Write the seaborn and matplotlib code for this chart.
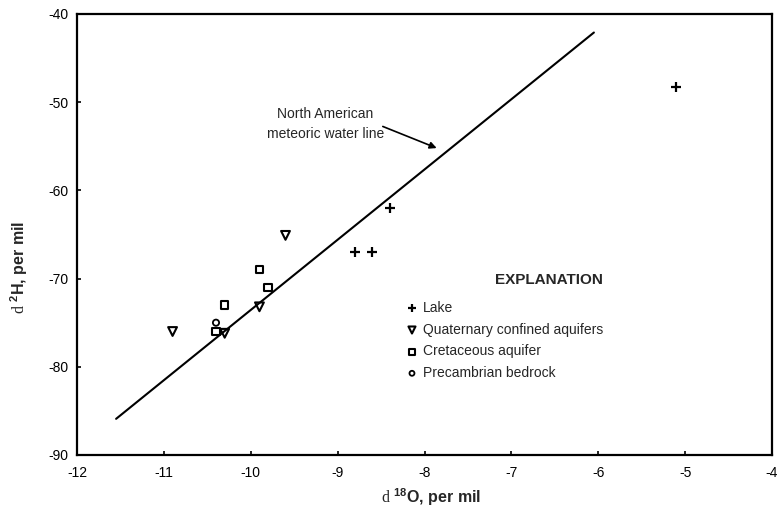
import matplotlib
matplotlib.use("Agg")
import matplotlib.pyplot as plt
import seaborn as sns
import pandas as pd

# ---- data ----
lake_x = [-5.1, -8.4, -8.8, -8.6]
lake_y = [-48.3, -62.0, -67.0, -67.0]
quat_x = [-10.9, -10.3, -9.9, -9.6]
quat_y = [-76.0, -76.2, -73.2, -65.1]
cret_x = [-10.3, -10.4, -9.9, -9.8]
cret_y = [-73.0, -76.0, -69.0, -71.0]
prec_x = [-10.4]
prec_y = [-75.0]
mwl_x = [-11.55, -6.05]
mwl_y = [-85.9, -42.1]
x_ticks = [-12, -11, -10, -9, -8, -7, -6, -5, -4]
y_ticks = [-90, -80, -70, -60, -50, -40]

sns.set_theme(style="white")
plt.rcParams['font.family'] = ['Liberation Sans', 'DejaVu Sans']
plt.rcParams['mathtext.fontset'] = 'custom'
plt.rcParams['mathtext.rm'] = 'Liberation Serif'
plt.rcParams['mathtext.bf'] = 'Liberation Sans:bold'

fig = plt.figure(figsize=(7.78, 5.07), dpi=100)
ax = fig.add_axes([77/778, 52/507, 695/778, 441/507])

sns.lineplot(x=mwl_x, y=mwl_y, ax=ax, color='black', linewidth=1.5, sort=False)

sns.scatterplot(x=lake_x, y=lake_y, ax=ax, marker='+', s=55, color='black',
                linewidth=1.6, label='Lake')
sns.scatterplot(x=quat_x, y=quat_y, ax=ax, marker='v', s=40, color='black',
                facecolor='none', edgecolor='black', linewidth=1.5,
                label='Quaternary confined aquifers')
sns.scatterplot(x=cret_x, y=cret_y, ax=ax, marker='s', s=28, color='black',
                facecolor='none', edgecolor='black', linewidth=1.5,
                label='Cretaceous aquifer')
sns.scatterplot(x=prec_x, y=prec_y, ax=ax, marker='o', s=20, color='black',
                facecolor='none', edgecolor='black', linewidth=1.3,
                label='Precambrian bedrock')

ax.set_xlim(-12, -4)
ax.set_ylim(-90, -40)
ax.set_xticks(x_ticks)
ax.set_yticks(y_ticks)
ax.set_xticklabels([str(t) for t in x_ticks])
ax.set_yticklabels([str(t) for t in y_ticks])
ax.tick_params(axis='both', direction='in', length=3, width=1.2, labelsize=10,
               colors='black')
ax.tick_params(axis='x', pad=8)
ax.tick_params(axis='y', pad=6)
ax.tick_params(top=False, right=False, bottom=True, left=True)
for sp in ax.spines.values():
    sp.set_visible(True)
    sp.set_color('black')
    sp.set_linewidth(1.6)

ax.set_xlabel(r"$\mathrm{d}$ $^{\mathbf{18}}$O, per mil", fontsize=11.5, fontweight='bold')
ax.set_ylabel(r"$\mathrm{d}$ $^{\mathbf{2}}$H, per mil", fontsize=11.5, fontweight='bold')
ax.xaxis.set_label_coords(0.51, -0.071)
ax.yaxis.set_label_coords(-0.067, 0.426)

ax.text(-9.14, -52.5, "North American\nmeteoric water line", ha='center',
        va='center', fontsize=10, linespacing=1.5)
ax.annotate("", xy=(-7.86, -55.2), xytext=(-8.48, -52.75),
            arrowprops=dict(arrowstyle='-|>', color='black', lw=1.2,
                            mutation_scale=10, shrinkA=0, shrinkB=0))

leg = ax.legend(title='EXPLANATION', frameon=False, loc='upper left',
                bbox_to_anchor=(0.464, 0.425), fontsize=10, markerscale=0.8,
                handletextpad=0.3, handlelength=1.0, labelspacing=0.55,
                borderaxespad=0)
leg.get_title().set_fontweight('bold')
leg.get_title().set_fontsize(11)
leg._legend_box.align = "right"
leg._legend_box.sep = 10

fig.savefig("out.png", dpi=100)
